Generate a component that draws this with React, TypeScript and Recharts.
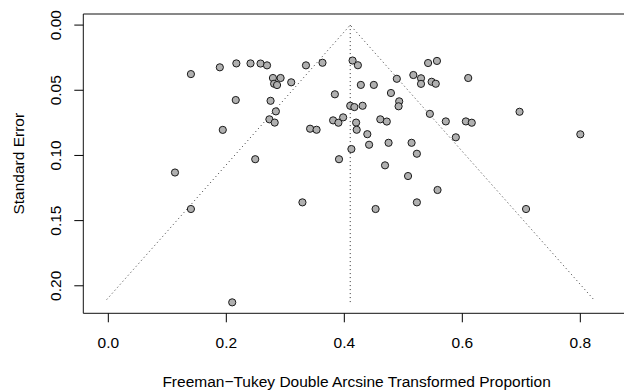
import React from "react"
import { ScatterChart, Scatter, XAxis, YAxis, ReferenceArea } from "recharts"

// observed effects (Freeman-Tukey transformed proportions) and their standard errors
const effects = [
  0.140, 0.189, 0.217, 0.241, 0.258, 0.269, 0.279, 0.292, 0.281, 0.286,
  0.310, 0.216, 0.275, 0.284, 0.273, 0.282, 0.194, 0.342, 0.353, 0.249,
  0.113, 0.335, 0.363, 0.329, 0.414, 0.423, 0.542, 0.557, 0.489, 0.517,
  0.530, 0.530, 0.548, 0.555, 0.610, 0.428, 0.450, 0.384, 0.479, 0.493,
  0.492, 0.410, 0.417, 0.431, 0.697, 0.545, 0.381, 0.390, 0.398, 0.420,
  0.421, 0.461, 0.472, 0.572, 0.606, 0.616, 0.439, 0.589, 0.800, 0.442,
  0.475, 0.514, 0.523, 0.412, 0.391, 0.469, 0.508, 0.558, 0.523, 0.140,
  0.210, 0.453, 0.708,
]
const stdErrors = [
  0.0376, 0.0324, 0.0294, 0.0294, 0.0295, 0.0309, 0.0406, 0.0406, 0.0450, 0.0460,
  0.0439, 0.0575, 0.0581, 0.0662, 0.0723, 0.0748, 0.0804, 0.0795, 0.0803, 0.1029,
  0.1131, 0.0309, 0.0289, 0.1360, 0.0272, 0.0308, 0.0291, 0.0275, 0.0412, 0.0383,
  0.0408, 0.0451, 0.0435, 0.0450, 0.0406, 0.0459, 0.0459, 0.0531, 0.0521, 0.0585,
  0.0623, 0.0619, 0.0629, 0.0619, 0.0665, 0.0681, 0.0731, 0.0749, 0.0708, 0.0748,
  0.0803, 0.0723, 0.0740, 0.0739, 0.0739, 0.0749, 0.0837, 0.0861, 0.0838, 0.0918,
  0.0903, 0.0903, 0.0987, 0.0951, 0.1029, 0.1076, 0.1158, 0.1265, 0.1360, 0.1411,
  0.2127, 0.1411, 0.1411,
]

const pooled = 0.41
const funnelSE = 0.2105
const maxSE = 0.2127

const xTicks = [0, 0.2, 0.4, 0.6, 0.8]
const yTicks = [0, 0.05, 0.1, 0.15, 0.2]

const xDomain: [number, number] = [-0.0424, 0.8842]
const yDomain: [number, number] = [-0.0085, 0.2211]

const points = effects.map((yi, i) => ({ x: yi, y: stdErrors[i] }))
const funnel = [
  { x: pooled - 1.96 * funnelSE, y: funnelSE },
  { x: pooled, y: 0 },
  { x: pooled + 1.96 * funnelSE, y: funnelSE },
]
const centerLine = [
  { x: pooled, y: 0 },
  { x: pooled, y: maxSE },
]

const font = "'Liberation Sans', Arial, Helvetica, sans-serif"
const fs = 15.5

const Dot = (props: any) => (
  <circle cx={props.cx} cy={props.cy} r={3.6} fill="#b0b0b0" stroke="#1a1a1a" strokeWidth={1} />
)

const XTick = (props: any) => (
  <text x={props.x} y={348.3} textAnchor="middle" fontSize={fs} fontFamily={font} fill="#000">
    {Number(props.payload.value).toFixed(1)}
  </text>
)

const YTick = (props: any) => {
  const cy = props.y
  return (
    <text
      x={55}
      y={cy}
      dy="0.36em"
      transform={`rotate(-90 55 ${cy})`}
      textAnchor="middle"
      fontSize={fs}
      fontFamily={font}
      fill="#000"
    >
      {Number(props.payload.value).toFixed(2)}
    </text>
  )
}

const App = () => {
  return (
    <div style={{ position: "absolute", left: 0, top: 0, width: 624, height: 392, overflow: "hidden", background: "#fff" }}>
      <ScatterChart width={640} height={392} margin={{ top: 14, right: 10, bottom: 0, left: 0 }}>
        <XAxis
          type="number"
          dataKey="x"
          domain={xDomain}
          ticks={xTicks}
          allowDataOverflow
          height={78.7}
          axisLine={false}
          tickSize={9}
          tickLine={{ stroke: "#000" }}
          tick={<XTick />}
          label={{
            content: () => (
              <text x={356.6} y={387} textAnchor="middle" fontSize={fs} fontFamily={font} fill="#000">
                Freeman−Tukey Double Arcsine Transformed Proportion
              </text>
            ),
          }}
        />
        <YAxis
          type="number"
          dataKey="y"
          reversed
          domain={yDomain}
          ticks={yTicks}
          allowDataOverflow
          width={83.3}
          axisLine={false}
          tickSize={9}
          tickLine={{ stroke: "#000" }}
          tick={<YTick />}
          label={{
            content: () => (
              <text
                x={18.5}
                y={163.7}
                dy="0.36em"
                transform="rotate(-90 18.5 163.7)"
                textAnchor="middle"
                fontSize={fs}
                fontFamily={font}
                fill="#000"
              >
                Standard Error
              </text>
            ),
          }}
        />
        <ReferenceArea
          x1={xDomain[0]}
          x2={xDomain[1]}
          y1={yDomain[0]}
          y2={yDomain[1]}
          fill="none"
          fillOpacity={0}
          stroke="#111"
          strokeWidth={1}
        />
        <Scatter
          data={funnel}
          line={{ stroke: "#333", strokeDasharray: "1 3", strokeWidth: 1 }}
          shape={() => <g />}
          isAnimationActive={false}
        />
        <Scatter
          data={centerLine}
          line={{ stroke: "#333", strokeDasharray: "1 3", strokeWidth: 1 }}
          shape={() => <g />}
          isAnimationActive={false}
        />
        <Scatter data={points} shape={<Dot />} isAnimationActive={false} />
      </ScatterChart>
    </div>
  )
}

export default App
